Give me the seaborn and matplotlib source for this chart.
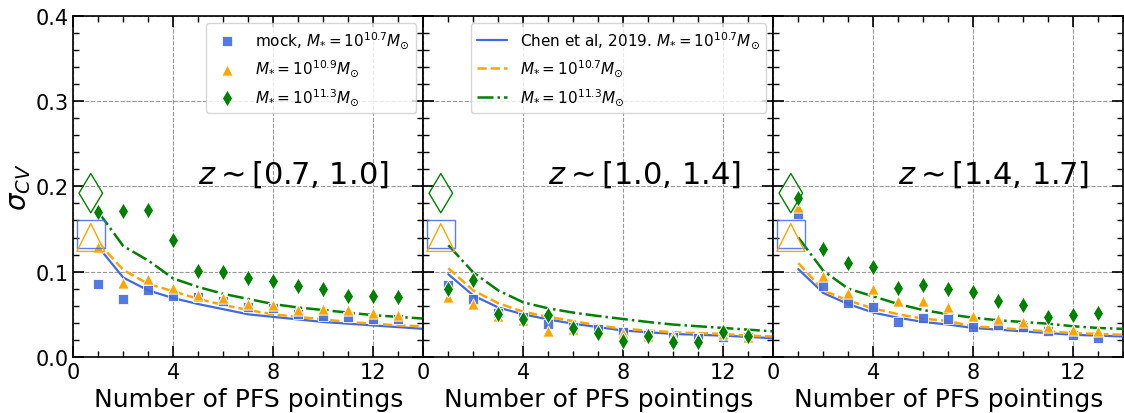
import matplotlib
matplotlib.use("Agg")
import matplotlib.pyplot as plt
import seaborn as sns
import pandas as pd
from matplotlib.ticker import MultipleLocator

# ---------------- data ----------------
pointings = [1, 2, 3, 4, 5, 6, 7, 8, 9, 10, 11, 12, 13]
curve_pointings = [1, 2, 3, 4, 5, 6, 7, 8, 9, 10, 11, 12, 13, 14]
panel_titles = [r"$z\sim$[0.7, 1.0]", r"$z\sim$[1.0, 1.4]", r"$z\sim$[1.4, 1.7]"]

# mock measurements (per redshift bin)
mock_107 = [
    [0.085, 0.068, 0.078, 0.072, 0.070, 0.066, 0.059, 0.057, 0.050, 0.048, 0.0465, 0.045, 0.044],
    [0.084, 0.068, 0.051, 0.047, 0.039, 0.035, 0.033, 0.029, 0.026, 0.023, 0.022, 0.023, 0.023],
    [0.168, 0.083, 0.063, 0.059, 0.041, 0.046, 0.045, 0.035, 0.038, 0.035, 0.031, 0.026, 0.022],
]
mock_109 = [
    [0.129, 0.087, 0.091, 0.081, 0.073, 0.069, 0.062, 0.061, 0.055, 0.056, 0.055, 0.052, 0.049],
    [0.070, 0.062, 0.048, 0.043, 0.031, 0.033, 0.032, 0.028, 0.025, 0.025, 0.022, 0.027, 0.024],
    [0.176, 0.095, 0.075, 0.080, 0.066, 0.066, 0.058, 0.048, 0.045, 0.041, 0.035, 0.032, 0.031],
]
mock_113 = [
    [0.170, 0.171, 0.172, 0.137, 0.101, 0.100, 0.093, 0.089, 0.083, 0.080, 0.072, 0.071, 0.070],
    [0.080, 0.090, 0.050, 0.045, 0.049, 0.034, 0.028, 0.019, 0.025, 0.017, 0.018, 0.029, 0.025],
    [0.186, 0.127, 0.110, 0.106, 0.081, 0.084, 0.080, 0.076, 0.066, 0.061, 0.047, 0.049, 0.052],
]

# Chen et al. 2019 model curves
chen_107 = [
    [0.129, 0.093, 0.078, 0.069, 0.062, 0.056, 0.050, 0.047, 0.044, 0.041, 0.039, 0.037, 0.035, 0.033],
    [0.097, 0.072, 0.058, 0.050, 0.044, 0.039, 0.035, 0.031, 0.029, 0.027, 0.026, 0.025, 0.0235, 0.022],
    [0.103, 0.075, 0.062, 0.052, 0.046, 0.041, 0.038, 0.034, 0.032, 0.030, 0.028, 0.026, 0.025, 0.024],
]
chen_107b = [
    [0.134, 0.102, 0.0856, 0.077, 0.068, 0.061, 0.055, 0.050, 0.047, 0.044, 0.041, 0.039, 0.037, 0.036],
    [0.104, 0.078, 0.063, 0.053, 0.047, 0.042, 0.037, 0.033, 0.031, 0.029, 0.028, 0.027, 0.025, 0.024],
    [0.110, 0.078, 0.066, 0.057, 0.050, 0.045, 0.042, 0.036, 0.034, 0.032, 0.030, 0.028, 0.027, 0.026],
]
chen_113 = [
    [0.170, 0.130, 0.113, 0.092, 0.082, 0.074, 0.068, 0.062, 0.058, 0.055, 0.052, 0.049, 0.047, 0.045],
    [0.131, 0.099, 0.078, 0.064, 0.057, 0.052, 0.048, 0.0445, 0.041, 0.038, 0.036, 0.034, 0.032, 0.030],
    [0.140, 0.101, 0.080, 0.071, 0.062, 0.055, 0.050, 0.046, 0.043, 0.041, 0.039, 0.036, 0.034, 0.033],
]

# large open reference markers
ref_x = [0.7]
ref_107 = [0.144]
ref_109 = [0.140]
ref_113 = [0.192]

# labels
point_labels = [r"mock, $M_{*}=10^{10.7}M_{\odot}$", r"$M_{*}=10^{10.9}M_{\odot}$",
                r"$M_{*}=10^{11.3}M_{\odot}$"]
line_labels = [r"Chen et al, 2019. $M_{*}=10^{10.7}M_{\odot}$", r"$M_{*}=10^{10.7}M_{\odot}$",
               r"$M_{*}=10^{11.3}M_{\odot}$"]

# ---------------- style ----------------
sns.set_style("ticks")
plt.rcParams["font.family"] = ["DejaVu Sans"]
plt.rcParams["mathtext.fontset"] = "dejavusans"
for key in ["text.color", "axes.labelcolor", "xtick.color", "ytick.color", "axes.edgecolor"]:
    plt.rcParams[key] = "black"

BLUE = "#4169E1"
ORANGE = "#FFA500"
GREEN = "#008000"

fig = plt.figure(figsize=(11.24, 4.14), dpi=100)
axes = fig.subplots(1, 3, sharey=True)
fig.subplots_adjust(left=0.0652, right=0.9994, bottom=0.1353, top=0.9597, wspace=0)

for i, ax in enumerate(axes):
    # model curves
    sns.lineplot(x=curve_pointings, y=chen_107[i], ax=ax, color=BLUE, lw=1.6,
                 linestyle="-", label=line_labels[0] if i == 1 else None, zorder=3)
    sns.lineplot(x=curve_pointings, y=chen_107b[i], ax=ax, color=ORANGE, lw=1.8,
                 linestyle="--", label=line_labels[1] if i == 1 else None, zorder=3)
    sns.lineplot(x=curve_pointings, y=chen_113[i], ax=ax, color=GREEN, lw=1.8,
                 linestyle="-.", label=line_labels[2] if i == 1 else None, zorder=3)

    # mock points
    sns.scatterplot(x=pointings, y=mock_107[i], ax=ax, color=BLUE, marker="s", s=60,
                    alpha=0.9, label=point_labels[0] if i == 0 else None, zorder=4)
    sns.scatterplot(x=pointings, y=mock_109[i], ax=ax, color=ORANGE, marker="^", s=65,
                    label=point_labels[1] if i == 0 else None, zorder=4)
    sns.scatterplot(x=pointings, y=mock_113[i], ax=ax, color=GREEN, marker="d", s=75,
                    label=point_labels[2] if i == 0 else None, zorder=4)

    # open reference markers
    sns.scatterplot(x=ref_x, y=ref_107, ax=ax, marker="s", s=400, facecolors="none",
                    edgecolor=BLUE, linewidth=1.0, alpha=0.85, zorder=5)
    sns.scatterplot(x=ref_x, y=ref_109, ax=ax, marker="^", s=400, facecolors="none",
                    edgecolor=ORANGE, linewidth=1.0, zorder=5)
    sns.scatterplot(x=ref_x, y=ref_113, ax=ax, marker="d", s=400, facecolors="none",
                    edgecolor=GREEN, linewidth=1.0, zorder=5)

    ax.set_xlim(0, 14)
    ax.set_ylim(0, 0.4)
    ax.xaxis.set_major_locator(MultipleLocator(4))
    ax.xaxis.set_minor_locator(MultipleLocator(1))
    ax.yaxis.set_major_locator(MultipleLocator(0.1))
    ax.yaxis.set_minor_locator(MultipleLocator(0.02))
    ax.grid(True, which="major", linestyle="--", color="gray", lw=0.8, alpha=0.8)
    ax.tick_params(which="both", direction="in", top=True, right=True, labelsize=15,
                   colors="black")
    ax.tick_params(which="major", length=8, width=1.2)
    ax.tick_params(which="minor", length=4.5, width=1.0)
    for sp in ax.spines.values():
        sp.set_linewidth(1.2)
        sp.set_color("black")
    ax.set_xlabel("Number of PFS pointings", fontsize=18, color="black")
    ax.set_ylabel("")
    ax.text(5.0, 0.215, panel_titles[i], fontsize=22, ha="left", va="center", color="black")

    if i in (0, 1):
        leg = ax.legend(loc="upper right", fontsize=11, framealpha=0.8)
        for t in leg.get_texts():
            t.set_color("black")
    else:
        lg = ax.get_legend()
        if lg is not None:
            lg.remove()

axes[0].set_ylabel(r"$\sigma_{CV}$", fontsize=20, color="black", labelpad=2)

fig.savefig("out.png", dpi=100)
